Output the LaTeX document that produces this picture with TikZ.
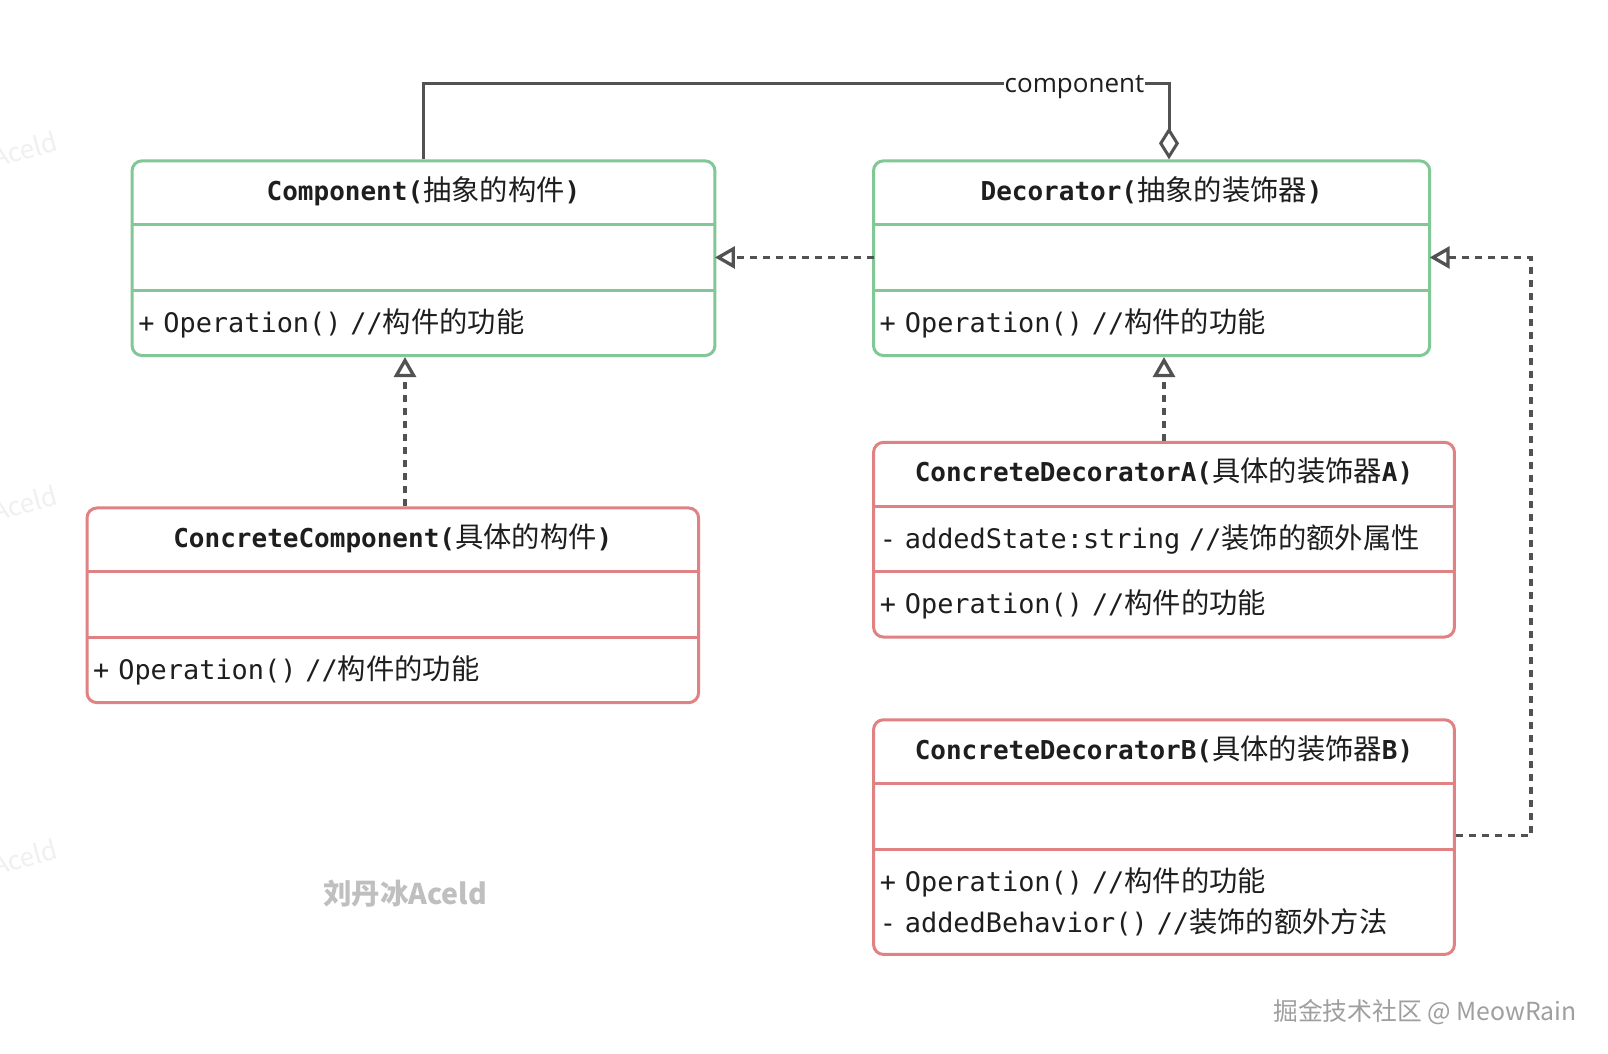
\documentclass[tikz,border=0pt]{standalone}
\usepackage{fontspec}
\setmonofont{DejaVu Sans Mono}
\newfontfamily\cjk{Noto Sans CJK SC}
\newfontfamily\lblfont{Open Sans}
\newcommand\zh[1]{{\cjk\mdseries\fontsize{28.3}{41}\selectfont #1}}
\usetikzlibrary{arrows.meta,positioning,fit}
\definecolor{umlgreen}{RGB}{130,199,150}
\definecolor{umlred}{RGB}{224,130,132}
\definecolor{connect}{RGB}{82,82,82}
\definecolor{umltext}{RGB}{30,30,30}

\begin{document}
\begin{tikzpicture}[x=1pt, y=-1pt,
  head/.style={minimum width=#1, minimum height=63.5pt, inner sep=0pt, text=umltext,
    font=\fontsize{26}{30}\selectfont\ttfamily\bfseries, text height=20pt, text depth=5pt},
  cell/.style={text width=#1, minimum height=65pt, inner xsep=6pt, inner ysep=0pt, align=left, text=umltext,
    font=\fontsize{26.9}{41}\selectfont\ttfamily, text height=21pt, text depth=2pt},
  classframe/.style={draw=#1, line width=3pt, rounded corners=10pt, inner sep=0pt},
  divider/.style={draw=#1, line width=3pt},
  assoc/.style={draw=connect, line width=3pt},
  realize/.style={draw=connect, line width=3.3pt, dash pattern=on 7pt off 6pt,
    -{Triangle[open, length=20pt, width=22pt]}},
  lbl/.style={fill=white, inner xsep=1pt, inner ysep=2pt, font=\lblfont\fontsize{26}{30}\selectfont, text=umltext},
  wmark/.style={text=gray!50, font=\cjk\bfseries\fontsize{28.5}{30}\selectfont}
]
\fill[white] (0,0) rectangle (1608,1053);
\useasboundingbox (0,0) rectangle (1608,1053);

\node[head=582.5pt] (comp) at (423.5,192.8) {Component(\zh{抽象的构件})};
\node[cell=570.5pt, below=0pt of comp] (comp-a) {};
\node[cell=570.5pt, below=0pt of comp-a] (comp-o) {+ Operation() //\zh{构件的功能}};
\node[classframe=umlgreen, fit=(comp)(comp-a)(comp-o)] (comp-box) {};
\draw[divider=umlgreen] (comp.south west) -- (comp.south east);
\draw[divider=umlgreen] (comp-a.south west) -- (comp-a.south east);

\node[head=555.8pt] (deco) at (1151.6,192.8) {Decorator(\zh{抽象的装饰器})};
\node[cell=543.8pt, below=0pt of deco] (deco-a) {};
\node[cell=543.8pt, below=0pt of deco-a] (deco-o) {+ Operation() //\zh{构件的功能}};
\node[classframe=umlgreen, fit=(deco)(deco-a)(deco-o)] (deco-box) {};
\draw[divider=umlgreen] (deco.south west) -- (deco.south east);
\draw[divider=umlgreen] (deco-a.south west) -- (deco-a.south east);

\node[head=611.2pt] (cc) at (392.8,539.9) {ConcreteComponent(\zh{具体的构件})};
\node[cell=599.2pt, below=0pt of cc] (cc-a) {};
\node[cell=599.2pt, below=0pt of cc-a] (cc-o) {+ Operation() //\zh{构件的功能}};
\node[classframe=umlred, fit=(cc)(cc-a)(cc-o)] (cc-box) {};
\draw[divider=umlred] (cc.south west) -- (cc.south east);
\draw[divider=umlred] (cc-a.south west) -- (cc-a.south east);

\node[head=580.5pt] (cda) at (1164,474.3) {ConcreteDecoratorA(\zh{具体的装饰器}A)};
\node[cell=568.5pt, below=0pt of cda] (cda-a) {- addedState:string //\zh{装饰的额外属性}};
\node[cell=568.5pt, below=0pt of cda-a] (cda-o) {+ Operation() //\zh{构件的功能}};
\node[classframe=umlred, fit=(cda)(cda-a)(cda-o)] (cda-box) {};
\draw[divider=umlred] (cda.south west) -- (cda.south east);
\draw[divider=umlred] (cda-a.south west) -- (cda-a.south east);

\node[head=580.5pt] (cdb) at (1164,751.7) {ConcreteDecoratorB(\zh{具体的装饰器}B)};
\node[cell=568.5pt, below=0pt of cdb] (cdb-a) {};
\node[cell=568.5pt, below=0pt of cdb-a, minimum height=105pt, text height={}, text depth={}] (cdb-o)
  {+ Operation() //\zh{构件的功能}\\- addedBehavior() //\zh{装饰的额外方法}};
\node[classframe=umlred, fit=(cdb)(cdb-a)(cdb-o)] (cdb-box) {};
\draw[divider=umlred] (cdb.south west) -- (cdb.south east);
\draw[divider=umlred] (cdb-a.south west) -- (cdb-a.south east);

\coordinate (agg) at (1169,83.1);
\coordinate (cclink) at (405,0);
\coordinate (cdblink) at (1531,835.8);
\draw[assoc, -{Diamond[open, length=32pt, width=20pt]}] (comp-box.north) |- (agg) -- (deco-box.north -| agg);
\node[lbl, anchor=base] (agglbl) at (1074.5,92) {component};
\draw[realize] (deco-a.west) -- (comp-a.east);
\draw[realize] (cc-box.north -| cclink) -- (comp-box.south -| cclink);
\draw[realize] (cda-box.north) -- (cda-box.north |- deco-box.south);
\draw[realize] (cdb-box.east |- cdblink) -- (cdblink) |- (deco-a.east);

\node[wmark] (author) at (405,894) {刘丹冰Aceld};
\node[text=gray!75, font=\cjk\fontsize{24.8}{28}\selectfont] (site) at (1425,1012) {掘金技术社区 @ MeowRain};
\foreach \y in {140,494,848}
  \node[anchor=east, rotate=15, text=gray!12, font=\cjk\fontsize{26}{28}\selectfont] at (60,\y) {Aceld};
\end{tikzpicture}
\end{document}
